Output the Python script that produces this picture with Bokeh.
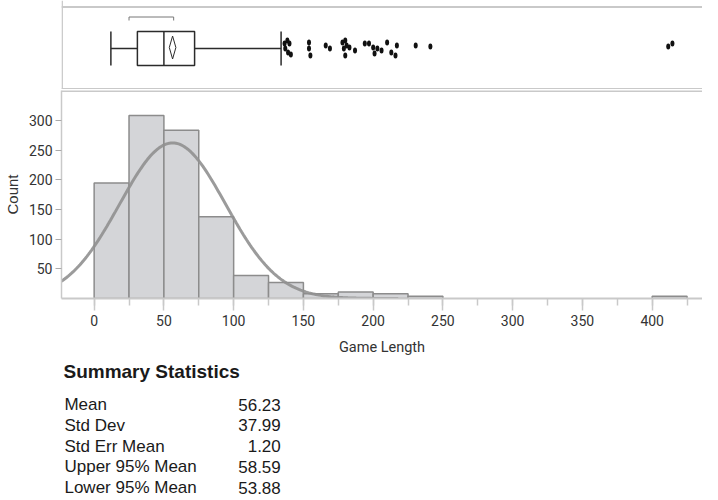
import math
from bokeh.plotting import figure
from bokeh.models import Range1d, FixedTicker, Span, ColumnDataSource
from bokeh.layouts import column
from bokeh.core.properties import value
from bokeh.embed import file_html
from bokeh.resources import INLINE

# ---------------- data ----------------
bin_left = [0, 25, 50, 75, 100, 125, 150, 175, 200, 225, 400]
bin_width = 25
bin_count = [195, 309, 284, 138, 39, 27, 8, 11, 8, 4, 4]

# box plot summary
whisker_low = 12
q1 = 31
median = 50
q3 = 72
whisker_high = 134
shortest_half = [25, 57]

outlier_x = [136.5, 138.5, 140, 139, 141, 137,
             154, 154, 155,
             166, 169,
             178, 180, 181, 179, 183, 180, 187,
             194, 197, 200, 201, 203, 206, 210, 213, 217, 216,
             230.5, 241,
             411.5, 414.5]
outlier_jit = [5, 8, 5, -4, -6, 0,
               6, 0, -7,
               3, 0,
               6, 8, 3, 0, 1, -7, -2,
               5, 5, 1, -5, 0, -2, 6, -4, 3, -7,
               3, 2,
               2, 5]

stat_names = ["Mean", "Std Dev", "Std Err Mean", "Upper 95% Mean", "Lower 95% Mean"]
stat_values = [56.23, 37.99, 1.20, 58.59, 53.88]
n_obs = 1000

mean, sd, se, upper95, lower95 = stat_values

# ---------------- styling ----------------
NARROW = "Roboto"
SANS = "Liberation Sans"
BORDER = "#c9c9c9"
DARK = "#2b2b2b"
W = 702
LEFT = 53
PX_PER_UNIT = 1.4125
X0 = -23.4
X_RANGE = (X0, X0 + (W - LEFT) / PX_PER_UNIT)

# ---------------- box plot ----------------
BH = 89
bp = figure(width=W, height=BH, output_backend="svg", toolbar_location=None,
            x_range=Range1d(*X_RANGE), y_range=Range1d(-41, 48),
            x_axis_location=None, y_axis_location=None,
            min_border_left=LEFT, min_border_right=0, min_border_top=0, min_border_bottom=0)
bp.grid.visible = False
bp.outline_line_color = None
bp.add_layout(Span(location=41.5, dimension="width", line_color=BORDER, line_width=2))
bp.add_layout(Span(location=-40.5, dimension="width", line_color=BORDER, line_width=2))
bp.add_layout(Span(location=X_RANGE[0] + 0.5, dimension="height", line_color=BORDER, line_width=1.5))

bp.segment(x0=[whisker_low, q3], y0=[0, 0], x1=[q1, whisker_high], y1=[0, 0], line_color=DARK, line_width=1.5)
bp.segment(x0=[whisker_low, whisker_high], y0=[-17, -17], x1=[whisker_low, whisker_high], y1=[17, 17],
           line_color=DARK, line_width=1.5)
bp.quad(left=[q1], right=[q3], bottom=[-17], top=[17], fill_color="white", line_color=DARK, line_width=1.5)
bp.segment(x0=[median], y0=[-17], x1=[median], y1=[17], line_color=DARK, line_width=1.5)
bp.patch(x=[lower95, mean, upper95, mean], y=[1, 12.5, 1, -10.5], fill_color="white", line_color=DARK, line_width=1)
bp.line(x=[shortest_half[0], shortest_half[0], shortest_half[1], shortest_half[1]], y=[28, 31.5, 31.5, 28],
        line_color="#777777", line_width=1)
bp.ellipse(x=outlier_x, y=outlier_jit, width=4, height=6, width_units="screen", height_units="screen",
           fill_color="#111111", line_color=None)

# ---------------- histogram ----------------
HB = 61
hp = figure(width=W, height=1 + 208 + HB, output_backend="svg", toolbar_location=None,
            x_range=Range1d(*X_RANGE), y_range=Range1d(0, 351),
            min_border_left=LEFT, min_border_right=0, min_border_top=1, min_border_bottom=HB)
hp.grid.visible = False
hp.outline_line_color = None
hp.add_layout(Span(location=350.0, dimension="width", line_color=BORDER, line_width=2))

src = ColumnDataSource(dict(left=bin_left, right=[b + bin_width for b in bin_left], top=bin_count))
hp.quad(left="left", right="right", bottom=0, top="top", source=src,
        fill_color="#d4d5d8", line_color="#8c8c8c", line_width=1.5)

# fitted normal curve from the reported mean / std dev
cx = [X_RANGE[0] + i * (218 - X_RANGE[0]) / 200 for i in range(201)]
scale = n_obs * bin_width / (sd * math.sqrt(2 * math.pi))
cy = [scale * math.exp(-0.5 * ((x - mean) / sd) ** 2) for x in cx]
hp.line(cx, cy, line_color="#909090", line_width=3, line_alpha=0.9)

xa = hp.xaxis[0]
xa.ticker = FixedTicker(ticks=list(range(0, 401, 50)), minor_ticks=list(range(-25, 451, 25)))
xa.axis_label = "Game Length"
xa.axis_line_color = BORDER
xa.axis_line_width = 2
xa.major_tick_line_color = BORDER
xa.minor_tick_line_color = BORDER
xa.major_tick_line_width = 1.5
xa.minor_tick_line_width = 1.5
xa.major_tick_in = 0
xa.major_tick_out = 12
xa.minor_tick_in = 0
xa.minor_tick_out = 7
xa.major_label_text_font = NARROW
xa.major_label_text_font_size = "14px"
xa.major_label_text_color = "#333333"
xa.major_label_standoff = 4
xa.axis_label_text_font = NARROW
xa.axis_label_text_font_size = "14.5px"
xa.axis_label_text_font_style = "normal"
xa.axis_label_text_color = "#333333"
xa.axis_label_standoff = 10

ya = hp.yaxis[0]
ya.ticker = FixedTicker(ticks=list(range(50, 301, 50)), minor_ticks=[])
ya.axis_label = "Count"
ya.axis_line_color = BORDER
ya.axis_line_width = 1.5
ya.major_tick_line_color = "#aaaaaa"
ya.major_tick_in = 0
ya.major_tick_out = 6
ya.minor_tick_line_color = None
ya.major_label_text_font = NARROW
ya.major_label_text_font_size = "14px"
ya.major_label_text_color = "#333333"
ya.major_label_standoff = 3
ya.axis_label_text_font = SANS
ya.axis_label_text_font_size = "15px"
ya.axis_label_text_font_style = "normal"
ya.axis_label_text_color = "#333333"
ya.axis_label_standoff = 5

# ---------------- summary statistics ----------------
# frame of this figure is aligned with the plots above (left edge at page x = 61),
# so the ranges are expressed in page pixels (y top-down)
TOP = BH + 1 + 208 + HB
SH = 498 - TOP
sp = figure(width=W, height=SH, output_backend="svg", toolbar_location=None,
            x_range=Range1d(8 + LEFT, 8 + W), y_range=Range1d(TOP + SH, TOP),
            x_axis_location=None, y_axis_location=None,
            min_border_left=LEFT, min_border_right=0, min_border_top=0, min_border_bottom=0)
sp.grid.visible = False
sp.outline_line_color = None
sp.text(x=[63], y=[371], text=["Summary Statistics"], text_font=value(SANS), text_font_size="19px",
        text_font_style="bold", text_color="#1a1a1a", text_baseline="middle", text_align="left")
row_y = [404 + 20.8 * i for i in range(len(stat_names))]
sp.text(x=[64] * len(stat_names), y=row_y, text=stat_names, text_font=value(SANS), text_font_size="17px",
        text_color="#1a1a1a", text_baseline="middle", text_align="left")
sp.text(x=[283] * len(stat_values), y=row_y, text=[f"{v:.2f}" for v in stat_values], text_font=value(SANS),
        text_font_size="17px", text_color="#1a1a1a", text_baseline="middle", text_align="right")

layout = column(bp, hp, sp, spacing=0)
open("out.html", "w").write(file_html(layout, INLINE))
